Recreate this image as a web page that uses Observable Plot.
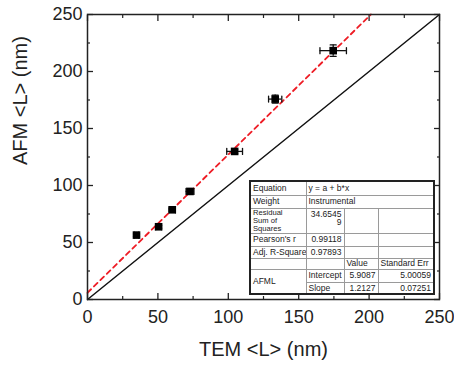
<!DOCTYPE html>
<html>
<head>
<meta charset="utf-8">
<script src="https://cdn.jsdelivr.net/npm/d3@7"></script>
<script src="https://cdn.jsdelivr.net/npm/@observablehq/plot@0.6"></script>
<style>
  body { margin: 0; background: #fff; }
  #wrap { position: relative; width: 454px; height: 365px; font-family: "Liberation Sans", Arial, sans-serif; }
  #tbl { position: absolute; left: 249px; top: 180px; border-collapse: collapse; table-layout: fixed;
         border: 2px solid #222; font-family: "Liberation Sans", Arial, sans-serif; font-size: 8.5px; color: #222; background: #fff; }
  #tbl td { border: 1px solid #9a9a9a; padding: 0 2px; line-height: 8.5px; vertical-align: top; overflow: hidden; white-space: nowrap; }
  #tbl td.r { text-align: right; }
  #tbl td.mid { vertical-align: middle; }
  #tbl td.tall { overflow: visible; white-space: normal; vertical-align: middle; }
  #tbl td .clip { width: 40px; font-size: 7.6px; line-height: 8px; white-space: normal; }
  #tbl td .wrapnum { width: 33px; margin-left: auto; white-space: normal; word-break: break-all; padding-top: 1px; text-align: right; }
</style>
</head>
<body>
<div id="wrap"></div>
<script>
// ---- data ----
const temL   = [34.8, 50.5, 60.2, 72.8, 104.5, 133.3, 174.5];   // TEM <L> (nm)
const afmL   = [56.5, 63.8, 78.7, 94.8, 129.9, 175.8, 218.3];   // AFM <L> (nm)
const temErr = [1.5, 2.0, 2.2, 2.8, 5.6, 4.7, 9.4];
const afmErr = [1.0, 1.2, 1.2, 1.5, 2.0, 3.5, 5.0];

const majorTicks = [0, 50, 100, 150, 200, 250];
const minorTicks = [25, 75, 125, 175, 225];
const identityEnds = [0, 250];

const fitIntercept = 5.9087;
const fitSlope = 1.2127;
const fitXEnds = [0, 201.3];

const xTitle = "TEM <L> (nm)";
const yTitle = "AFM <L> (nm)";

// fit-report table
const tableLabels = ["Equation", "Weight", "Residual Sum of Squares", "Pearson's r", "Adj. R-Square", "", "AFML"];
const tableValues = ["y = a + b*x", "Instrumental", "34.65459", "0.99118", "0.97893"];
const paramHeaders = ["Value", "Standard Err"];
const paramNames = ["Intercept", "Slope"];
const paramValues = ["5.9087", "1.2127"];
const paramErrors = ["5.00059", "0.07251"];

// ---- build ----
const pts = temL.map((x, i) => ({x, y: afmL[i], xe: temErr[i], ye: afmErr[i]}));
const fit = fitXEnds.map(x => ({x, y: fitIntercept + fitSlope * x}));
const ident = identityEnds.map(v => ({x: v, y: v}));

const capShape = {draw(ctx, l) { ctx.moveTo(0, 0); ctx.lineTo(0, -l); }};
const font = "Liberation Sans, Arial, sans-serif";

const chart = Plot.plot({
  width: 454,
  height: 365,
  marginLeft: 87,
  marginRight: 15,
  marginTop: 14,
  marginBottom: 66,
  style: {fontFamily: font, background: "#fff", color: "#222"},
  x: {domain: [0, 250]},
  y: {domain: [0, 250]},
  marks: [
    // tick labels
    Plot.axisX(majorTicks, {anchor: "bottom", tickSize: 0, tickPadding: 11, fontSize: 18, label: null, tickFormat: d => d}),
    Plot.axisY(majorTicks, {anchor: "left", tickSize: 0, tickPadding: 5, fontSize: 18, label: null, tickFormat: d => d}),
    // inward ticks on all four sides
    Plot.axisX(majorTicks, {anchor: "bottom", tickSize: -6, text: null, label: null, strokeWidth: 1.3}),
    Plot.axisX(majorTicks, {anchor: "top", tickSize: -6, text: null, label: null, strokeWidth: 1.3}),
    Plot.axisY(majorTicks, {anchor: "left", tickSize: -6, text: null, label: null, strokeWidth: 1.3}),
    Plot.axisY(majorTicks, {anchor: "right", tickSize: -6, text: null, label: null, strokeWidth: 1.3}),
    Plot.axisX(minorTicks, {anchor: "bottom", tickSize: -3, text: null, label: null, strokeWidth: 1.2}),
    Plot.axisX(minorTicks, {anchor: "top", tickSize: -3, text: null, label: null, strokeWidth: 1.2}),
    Plot.axisY(minorTicks, {anchor: "left", tickSize: -3, text: null, label: null, strokeWidth: 1.2}),
    Plot.axisY(minorTicks, {anchor: "right", tickSize: -3, text: null, label: null, strokeWidth: 1.2}),
    // axis titles
    Plot.text([xTitle], {text: d => d, frameAnchor: "bottom", dy: 56, fontSize: 20, fill: "#222"}),
    Plot.text([yTitle], {text: d => d, frameAnchor: "left", rotate: -90, dx: -67, dy: 8, fontSize: 20, fill: "#222"}),
    // identity line
    Plot.line(ident, {x: "x", y: "y", stroke: "#111", strokeWidth: 1.5}),
    // fit line
    Plot.line(fit, {x: "x", y: "y", stroke: "#ee1c25", strokeWidth: 1.8, strokeDasharray: "5,4"}),
    // error bars
    Plot.ruleY(pts, {y: "y", x1: d => d.x - d.xe, x2: d => d.x + d.xe, stroke: "#111", strokeWidth: 1.3}),
    Plot.ruleX(pts, {x: "x", y1: d => d.y - d.ye, y2: d => d.y + d.ye, stroke: "#111", strokeWidth: 1.3}),
    Plot.vector(pts, {x: d => d.x - d.xe, y: "y", length: 6, rotate: 0, anchor: "middle", shape: capShape, stroke: "#111", strokeWidth: 1.3}),
    Plot.vector(pts, {x: d => d.x + d.xe, y: "y", length: 6, rotate: 0, anchor: "middle", shape: capShape, stroke: "#111", strokeWidth: 1.3}),
    Plot.vector(pts, {x: "x", y: d => d.y - d.ye, length: 6, rotate: 90, anchor: "middle", shape: capShape, stroke: "#111", strokeWidth: 1.3}),
    Plot.vector(pts, {x: "x", y: d => d.y + d.ye, length: 6, rotate: 90, anchor: "middle", shape: capShape, stroke: "#111", strokeWidth: 1.3}),
    // markers
    Plot.dot(pts, {x: "x", y: "y", symbol: "square", r: 4.3, fill: "#000", stroke: "none"}),
    Plot.frame({stroke: "#222", strokeWidth: 1.5})
  ]
});

const wrap = document.getElementById("wrap");
wrap.appendChild(chart);

// fit report table overlay
const colW = [56, 38, 34, 56];
const rowH = [14, 13, 25, 13, 12, 11, 13, 12];
const t = document.createElement("table");
t.id = "tbl";
const cg = document.createElement("colgroup");
colW.forEach(w => { const c = document.createElement("col"); c.style.width = w + "px"; cg.appendChild(c); });
t.appendChild(cg);
t.style.width = d3.sum(colW) + "px";
function row(h) { const r = t.insertRow(); r.style.height = h + "px"; return r; }
function cell(r, html, cls, colspan, rowspan) {
  const c = r.insertCell(); c.innerHTML = html; if (cls) c.className = cls;
  if (colspan) c.colSpan = colspan; if (rowspan) c.rowSpan = rowspan; return c;
}
let r;
r = row(rowH[0]); cell(r, tableLabels[0], "mid"); cell(r, tableValues[0], "mid", 3);
r = row(rowH[1]); cell(r, tableLabels[1], "mid"); cell(r, tableValues[1], "mid", 3);
r = row(rowH[2]); cell(r, `<div class="clip">${tableLabels[2]}</div>`, "tall"); cell(r, `<div class="wrapnum">${tableValues[2]}</div>`, "r"); cell(r, ""); cell(r, "");
r = row(rowH[3]); cell(r, tableLabels[3], "mid"); cell(r, tableValues[3], "r mid"); cell(r, ""); cell(r, "");
r = row(rowH[4]); cell(r, tableLabels[4], "mid"); cell(r, tableValues[4], "r mid"); cell(r, ""); cell(r, "");
r = row(rowH[5]); cell(r, tableLabels[5]); cell(r, ""); cell(r, paramHeaders[0], "mid"); cell(r, paramHeaders[1], "mid");
r = row(rowH[6]); cell(r, tableLabels[6], "mid", 1, 2); cell(r, paramNames[0], "mid"); cell(r, paramValues[0], "r mid"); cell(r, paramErrors[0], "r mid");
r = row(rowH[7]); cell(r, paramNames[1], "mid"); cell(r, paramValues[1], "r mid"); cell(r, paramErrors[1], "r mid");
wrap.appendChild(t);
</script>
</body>
</html>
